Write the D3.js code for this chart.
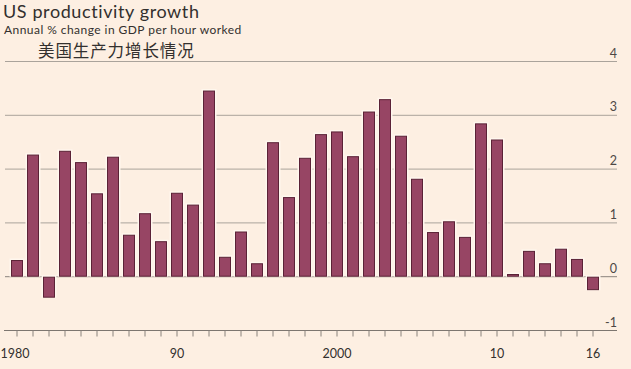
<!DOCTYPE html>
<html>
<head>
<meta charset="utf-8">
<script src="https://cdn.jsdelivr.net/npm/d3@7"></script>
<style>
  html, body { margin: 0; padding: 0; background: #fdefe2; }
  svg { display: block; }
</style>
</head>
<body>
<svg id="chart" width="631" height="369"></svg>
<script>
const years = d3.range(1980, 2017);
const values = [0.31, 2.27, -0.39, 2.34, 2.13, 1.55, 2.23, 0.78, 1.18, 0.66,
                1.56, 1.34, 3.46, 0.37, 0.84, 0.25, 2.50, 1.48, 2.21, 2.65,
                2.70, 2.24, 3.07, 3.30, 2.62, 1.82, 0.83, 1.03, 0.74, 2.85,
                2.55, 0.05, 0.48, 0.25, 0.52, 0.33, -0.25];
const yTicks = [-1, 0, 1, 2, 3, 4];
const xLabelYears = [1980, 1990, 2000, 2010, 2016];
const xLabelText = ["1980", "90", "2000", "10", "16"];
const titleText = "US productivity growth";
const subtitleText = "Annual % change in GDP per hour worked";
const chineseText = "美国生产力增长情况";

const svg = d3.select("#chart");
svg.append("rect").attr("width", 631).attr("height", 369).attr("fill", "#fdefe2");

const x = d3.scaleBand().domain(years).range([9, 601]).paddingInner(0.25).paddingOuter(0.125);
const y = d3.scaleLinear().domain([-1, 4]).range([330.5, 61.5]);

const font = "Lato, 'Open Sans', sans-serif";

// Title
svg.append("text").attr("x", 3).attr("y", 18).attr("font-family", font)
  .attr("font-size", 18).attr("letter-spacing", 0.6).attr("fill", "#33302e").text(titleText);
svg.append("text").attr("x", 4).attr("y", 34).attr("font-family", font)
  .attr("font-size", 12).attr("letter-spacing", 0.45).attr("fill", "#33302e").text(subtitleText);
svg.append("text").attr("x", 38).attr("y", 56.5).attr("font-family", "'Noto Sans CJK SC', sans-serif")
  .attr("font-size", 16.5).attr("letter-spacing", 0.9).attr("fill", "#33302e").text(chineseText);

// Gridlines
const grid = svg.append("g");
grid.selectAll("line").data(yTicks.filter(d => d !== -1)).join("line")
  .attr("x1", 5).attr("x2", 617)
  .attr("y1", d => y(d)).attr("y2", d => y(d))
  .attr("stroke", d => d === 0 ? "#8a837d" : "#aaa39b").attr("stroke-width", 1);

// y labels
svg.append("g").selectAll("text").data(yTicks).join("text")
  .attr("x", 617).attr("y", d => y(d) - 4)
  .attr("text-anchor", "end")
  .attr("font-family", font).attr("font-size", 12.5).attr("fill", "#4d4845")
  .text(d => d < 0 ? "-" + Math.abs(d) : d);

// Bars with halo
const bars = svg.append("g");
bars.selectAll("rect.halo").data(values).join("rect").attr("class", "halo")
  .attr("x", (d, i) => x(years[i]) - 1.5)
  .attr("width", x.bandwidth() + 3)
  .attr("y", d => Math.min(y(d), y(0)) - 1.5)
  .attr("height", d => Math.abs(y(d) - y(0)) + 1.5)
  .attr("fill", "#fff7ee");
bars.selectAll("rect.bar").data(values).join("rect").attr("class", "bar")
  .attr("x", (d, i) => x(years[i]) + 0.5)
  .attr("width", x.bandwidth() - 1)
  .attr("y", d => Math.min(y(d), y(0)) + 0.5)
  .attr("height", d => Math.max(Math.abs(y(d) - y(0)) - 1, 1))
  .attr("fill", "#974564").attr("stroke", "#5b2236").attr("stroke-width", 1);

// Bottom axis
const axisG = svg.append("g").attr("transform", `translate(0,${y(-1)})`);
axisG.append("line").attr("x1", 4).attr("x2", 617).attr("stroke", "#7d7670").attr("stroke-width", 1.2);
axisG.selectAll("line.tick").data(years).join("line").attr("class", "tick")
  .attr("x1", d => x(d) + x.bandwidth() / 2).attr("x2", d => x(d) + x.bandwidth() / 2)
  .attr("y1", 0).attr("y2", 6).attr("stroke", "#8a837d").attr("stroke-width", 1);
axisG.selectAll("text").data(xLabelYears).join("text")
  .attr("x", d => x(d) + x.bandwidth() / 2 - (d === 1980 ? 2 : 0))
  .attr("y", 27)
  .attr("text-anchor", "middle")
  .attr("font-family", font).attr("font-size", 12.5).attr("fill", "#33302e")
  .text((d, i) => xLabelText[i]);
</script>
</body>
</html>
